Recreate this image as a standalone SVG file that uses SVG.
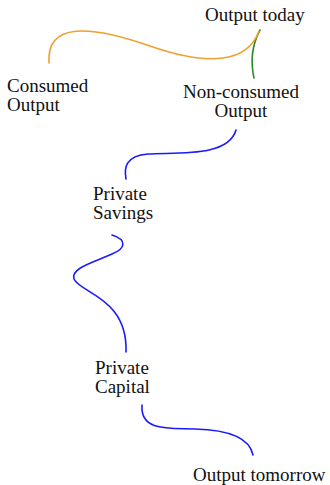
<svg xmlns="http://www.w3.org/2000/svg" width="330" height="485" viewBox="0 0 330 485">
<style>
text{font-family:"Liberation Serif","Times New Roman",serif;font-size:19px;fill:#111}
.c{fill:none;stroke-width:1.6;stroke-linecap:round}
.b{stroke:#1a1aff}
.o{stroke:#f0a030}
.g{stroke:#2a8a2a}
</style>
<g id="connectors">
<path class="c g" d="M260,30 C252,45 250,60 254,78"/>
<path class="c o" d="M49,63 C46,22 90,25 150,46 C210,67 248,62 259,31"/>
<path class="c b" d="M236,130 C228,158 175,152 148,154 C125,156 124,168 126,179"/>
<path class="c b" d="M112,235 C128,240 125,249 112,254 C95,262 70,268 74,279 C80,293 128,298 126,352"/>
<path class="c b" d="M142,405 C140,432 170,428 195,429 C232,430 250,440 253,455"/>
</g>
<g id="output-today"><text x="205" y="21">Output today</text></g>
<g id="consumed-output"><text x="7" y="92">Consumed</text><text x="7" y="111">Output</text></g>
<g id="non-consumed-output"><text x="241" y="98" text-anchor="middle">Non-consumed</text><text x="241" y="117" text-anchor="middle">Output</text></g>
<g id="private-savings"><text x="93" y="200">Private</text><text x="93" y="219">Savings</text></g>
<g id="private-capital"><text x="95" y="374">Private</text><text x="95" y="393">Capital</text></g>
<g id="output-tomorrow"><text x="193" y="481">Output tomorrow</text></g>
</svg>
